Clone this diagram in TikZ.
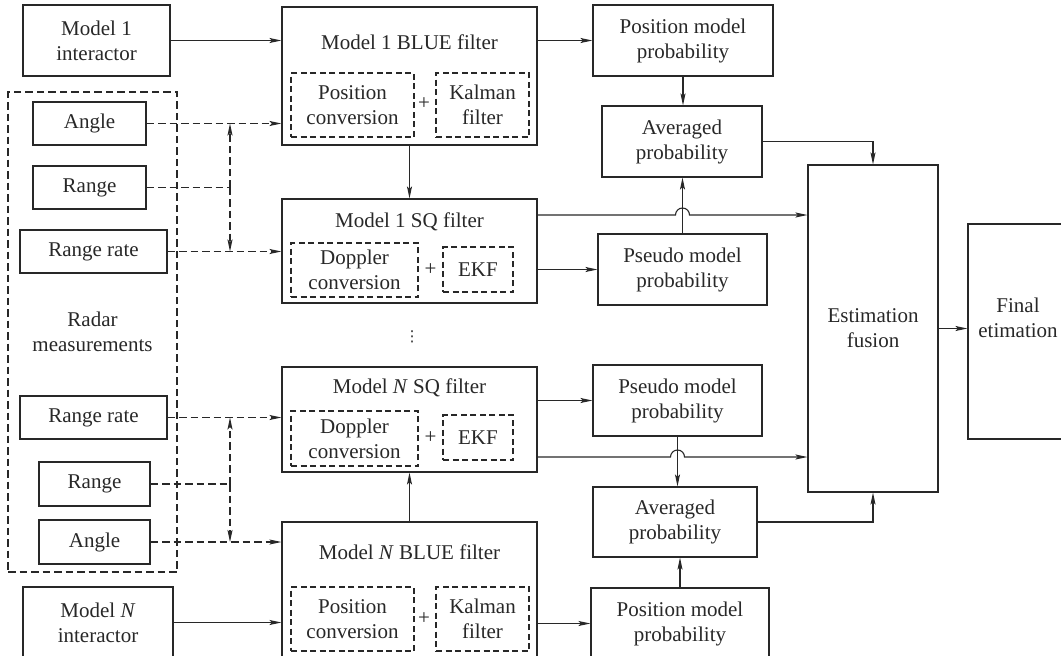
\documentclass[tikz,border=0pt]{standalone}
\usepackage{fontspec}
\setmainfont{Liberation Serif}
\newfontfamily\djv{DejaVu Sans}
\usetikzlibrary{arrows.meta,calc}
\definecolor{ln}{RGB}{40,40,40}
\begin{document}
\begin{tikzpicture}[x=1pt,y=-1pt,
  every node/.style={font=\fontsize{21}{25}\selectfont, text=ln},
  box/.style={draw=ln, line width=1.1pt, align=center, inner sep=0pt},
  dbox/.style={box, dash pattern=on 6pt off 3.5pt},
  rbox/.style={box, dash pattern=on 7.5pt off 4pt},
  plain/.style={draw=ln, line width=1.1pt},
  conn/.style={plain, -{Stealth[length=12pt,width=5pt,inset=2.5pt]}},
  dplain/.style={plain, dash pattern=on 7.5pt off 4pt},
  dconn/.style={conn, dash pattern=on 7.5pt off 4pt},
  lbl/.style={inner sep=0pt, align=center}]
\useasboundingbox (0,0) rectangle (1061,656);
\fill[white] (0,0) rectangle (1061,656);
\clip (0,0) rectangle (1061,656);

% left column
\node[box, minimum width=147pt, minimum height=71pt] (int1) at (96.5,40.5) {Model 1\\interactor};
\node[rbox, minimum width=169pt, minimum height=480pt] (radar) at (92.5,332) {Radar\\measurements};
\node[box, minimum width=113pt, minimum height=43pt] (ang1) at (89.5,123.5) {Angle};
\node[box, minimum width=113pt, minimum height=43pt] (rng1) at (89.5,187.5) {Range};
\node[box, minimum width=147pt, minimum height=43pt] (rr1) at (93.5,251.5) {Range rate};
\node[box, minimum width=147pt, minimum height=43pt] (rr2) at (93.5,417.5) {Range rate};
\node[box, minimum width=111pt, minimum height=44pt] (rng2) at (94.5,484) {Range};
\node[box, minimum width=111pt, minimum height=44pt] (ang2) at (94.5,542) {Angle};
\node[box, minimum width=150pt, minimum height=71pt] (intN) at (98,622.5) {Model \textit{N}\\interactor};

% filters
\node[box, minimum width=255pt, minimum height=138pt] (blue1) at (409.5,76) {};
\node[lbl] (blue1t) at (409.5,42) {Model 1 BLUE filter};
\node[dbox, minimum width=123pt, minimum height=64pt] (pc1) at (352.5,105) {Position\\conversion};
\node[dbox, minimum width=93pt, minimum height=64pt] (kf1) at (482.5,105) {Kalman\\filter};
\node[lbl] (pl1) at (424,104) {+};

\node[box, minimum width=255pt, minimum height=104pt] (sq1) at (409.5,251) {};
\node[lbl] (sq1t) at (409.5,222) {Model 1 SQ filter};
\node[dbox, minimum width=127pt, minimum height=54pt] (dc1) at (354.5,270) {Doppler\\conversion};
\node[dbox, minimum width=70pt, minimum height=45pt] (ekf1) at (478,269.5) {EKF};
\node[lbl] (pl2) at (430.5,270) {+};

\node[lbl, font=\djv\fontsize{15}{16}\selectfont] (dots) at (412,337) {⋮};

\node[box, minimum width=255pt, minimum height=105pt] (sqN) at (409.5,419.5) {};
\node[lbl] (sqNt) at (409.5,388) {Model \textit{N} SQ filter};
\node[dbox, minimum width=127pt, minimum height=55pt] (dcN) at (354.5,438.5) {Doppler\\conversion};
\node[dbox, minimum width=70pt, minimum height=45pt] (ekfN) at (478,437.5) {EKF};
\node[lbl] (pl3) at (430.5,438) {+};

\node[box, minimum width=255pt, minimum height=138pt] (blueN) at (409.5,591) {};
\node[lbl] (blueNt) at (409.5,552) {Model \textit{N} BLUE filter};
\node[dbox, minimum width=123pt, minimum height=64pt] (pcN) at (352.5,619) {Position\\conversion};
\node[dbox, minimum width=93pt, minimum height=64pt] (kfN) at (482.5,619) {Kalman\\filter};
\node[lbl] (pl4) at (424,619) {+};

% probabilities
\node[box, minimum width=180pt, minimum height=71pt] (pos1) at (683,40.5) {Position model\\probability};
\node[box, minimum width=160pt, minimum height=71pt] (avg1) at (682,141.5) {Averaged\\probability};
\node[box, minimum width=169pt, minimum height=71pt] (ps1) at (682.5,269.5) {Pseudo model\\probability};
\node[box, minimum width=169pt, minimum height=71pt] (psN) at (677.5,400.5) {Pseudo model\\probability};
\node[box, minimum width=164pt, minimum height=70pt] (avgN) at (675,522) {Averaged\\probability};
\node[box, minimum width=178pt, minimum height=71pt] (posN) at (680,623.5) {Position model\\probability};

% fusion
\node[box, minimum width=130pt, minimum height=327pt] (fus) at (873,328.5) {Estimation\\fusion};
\node[box, minimum width=100pt, minimum height=215pt] (fin) at (1018,331.5) {};
\node[lbl] (finT) at (1018,318) {Final\\etimation};

% radar dashed connectors
\coordinate (jr1) at (230,187.5);
\coordinate (jr2) at (230,484);
\draw[dconn] (ang1.east) -- (ang1.east -| blue1.west);
\draw[dplain] (rng1.east) -- (jr1);
\draw[dconn] (jr1) -- (jr1 |- ang1.east);
\draw[dconn] (jr1) -- (jr1 |- rr1.east);
\draw[dconn] (rr1.east) -- (rr1.east -| sq1.west);
\draw[dconn] (rr2.east) -- (rr2.east -| sqN.west);
\draw[dplain] (rng2.east) -- (jr2);
\draw[dconn] (jr2) -- (jr2 |- rr2.east);
\draw[dconn] (jr2) -- (jr2 |- ang2.east);
\draw[dconn] (ang2.east) -- (ang2.east -| blueN.west);

% solid connectors
\draw[conn] (int1.east) -- (int1.east -| blue1.west);
\draw[conn] (intN.east) -- (intN.east -| blueN.west);
\draw[conn] (blue1.east |- pos1.west) -- (pos1.west);
\draw[conn] (blueN.east |- posN.west) -- (posN.west);
\draw[conn] (blue1.south) -- (sq1.north);
\draw[conn] (blueN.north) -- (sqN.south);
\draw[conn] (pos1.south) -- (pos1.south |- avg1.north);
\draw[conn] (posN.north) -- (posN.north |- avgN.south);
\draw[conn] (sq1.east |- ps1.west) -- (ps1.west);
\draw[conn] (sqN.east |- psN.west) -- (psN.west);
\draw[conn] (ps1.north) -- (ps1.north |- avg1.south);
\draw[conn] (psN.south) -- (psN.south |- avgN.north);
\draw[conn] ([yshift=36pt]sq1.east) coordinate (j1) -- ($(ps1.north |- j1)+(-7,0)$) arc[start angle=180,end angle=0,radius=7pt] -- (j1 -| fus.west);
\draw[conn] ([yshift=-37.5pt]sqN.east) coordinate (j2) -- ($(psN.south |- j2)+(-7,0)$) arc[start angle=180,end angle=0,radius=7pt] -- (j2 -| fus.west);
\draw[conn] (avg1.east) -| (fus.north);
\draw[conn] (avgN.east) -| (fus.south);
\draw[conn] (fus.east) -- (fus.east -| fin.west);
\end{tikzpicture}
\end{document}
